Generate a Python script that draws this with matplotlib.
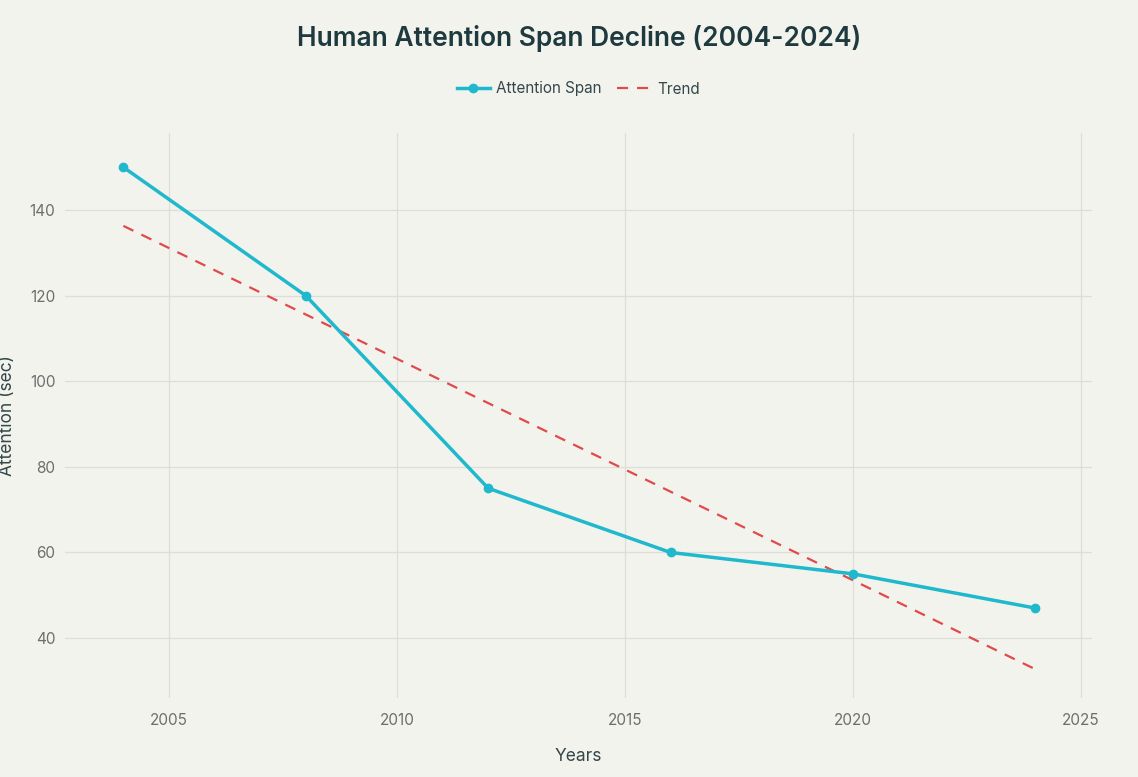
import matplotlib.pyplot as plt

# Data
years = [2004, 2008, 2012, 2016, 2020, 2024]
attention = [150, 120, 75, 60, 55, 47]
trend = [136.3, 115.6, 94.9, 74.2, 53.5, 32.7]
xtick_vals = [2005, 2010, 2015, 2020, 2025]
ytick_vals = [40, 60, 80, 100, 120, 140]

bg = '#F3F3EE'
line_color = '#1FB8CD'
trend_color = '#E04A4A'
title_color = '#1F3A3F'
tick_color = '#6E6E6E'

plt.rcParams['font.family'] = ['Inter', 'DejaVu Sans']

W, H = 1138, 777
fig = plt.figure(figsize=(W / 100, H / 100), dpi=100, facecolor=bg)
ax = fig.add_axes([65 / W, 1 - 698 / H, (1092 - 65) / W, (698 - 133) / H])
ax.set_facecolor(bg)

ax.plot(years, attention, color=line_color, linewidth=2.5, marker='o',
        markersize=6, label='Attention Span', zorder=3)
ax.plot(years, trend, color=trend_color, linewidth=1.6, linestyle=(0, (5, 4)),
        label='Trend', zorder=2)

ax.set_xlim(2002.72, 2025.24)
ax.set_ylim(26.0, 158.0)
ax.set_xticks(xtick_vals)
ax.set_yticks(ytick_vals)
ax.grid(True, color='#DEDED9', linewidth=0.9)
ax.set_axisbelow(True)
for s in ax.spines.values():
    s.set_visible(False)
ax.tick_params(length=0, colors=tick_color, labelsize=11)
ax.tick_params(axis='y', pad=7)
ax.tick_params(axis='x', pad=11)

ax.set_xlabel('Years', fontsize=12.5, color='#34474A', labelpad=14)
ax.set_ylabel('Attention (sec)', fontsize=12.5, color='#34474A', labelpad=10)

fig.text(579 / W, 1 - 38 / H, 'Human Attention Span Decline (2004-2024)',
         ha='center', va='center', fontsize=19, fontweight='semibold', color=title_color)

fig.legend(loc='center', bbox_to_anchor=(578 / W, 1 - 89 / H), ncol=2, frameon=False,
           fontsize=11, handlelength=2.2, handletextpad=0.4, columnspacing=1.0,
           labelcolor='#34474A')

fig.savefig('out.png', dpi=100, facecolor=bg)
